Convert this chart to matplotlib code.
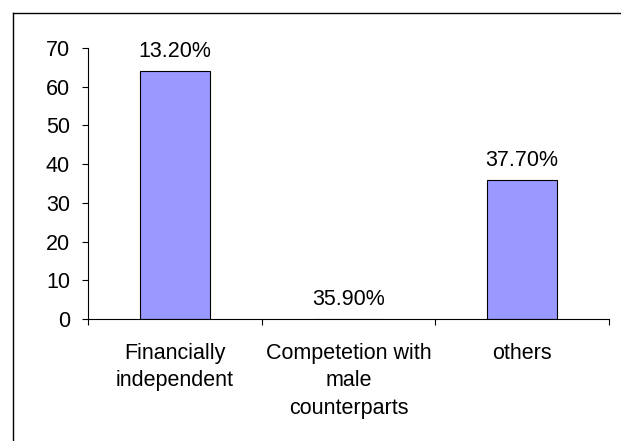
import matplotlib
matplotlib.use("Agg")
import matplotlib.pyplot as plt
from matplotlib.lines import Line2D

categories = ["Financially\nindependent", "Competetion with\nmale\ncounterparts", "others"]
values = [64, 0, 36]
value_labels = ["13.20%", "35.90%", "37.70%"]
yticks = [0, 10, 20, 30, 40, 50, 60, 70]

plt.rcParams['font.family'] = ['Liberation Sans', 'DejaVu Sans']
FS = 15.5

fig = plt.figure(figsize=(6.21, 4.41), dpi=100)
ax = fig.add_axes([88/621, 122/441, 521/621, 271/441])

x = list(range(len(categories)))
ax.bar(x, values, width=0.4, color="#9999FF", edgecolor="black", linewidth=0.8)
for xi, v, lab in zip(x, values, value_labels):
    ax.text(xi, v + 2.3, lab, ha="center", va="bottom", fontsize=FS)

ax.set_xlim(-0.5, 2.5)
ax.set_ylim(0, 70)
ax.set_yticks(yticks)
ax.tick_params(axis='y', labelsize=FS, length=4.5, width=0.8, direction='out', pad=8.5)
ax.set_xticks([-0.5, 0.5, 1.5, 2.5])
ax.set_xticklabels([])
ax.tick_params(axis='x', length=4.5, width=0.8, direction='out')
ax.set_xticks(x, minor=True)
ax.set_xticklabels(categories, minor=True, fontsize=FS, linespacing=1.41)
ax.tick_params(axis='x', which='minor', length=0, pad=17)
for s in ['top', 'right']:
    ax.spines[s].set_visible(False)
for s in ['left', 'bottom']:
    ax.spines[s].set_linewidth(0.8)

# outer chart border (left and top)
W, H = 621, 441
fig.add_artist(Line2D([12.5/W, 12.5/W], [0, 1 - 13/H], color="black", linewidth=1.0, transform=fig.transFigure))
fig.add_artist(Line2D([12.5/W, 1], [1 - 13/H, 1 - 13/H], color="black", linewidth=1.0, transform=fig.transFigure))

fig.savefig("out.png", dpi=100)
